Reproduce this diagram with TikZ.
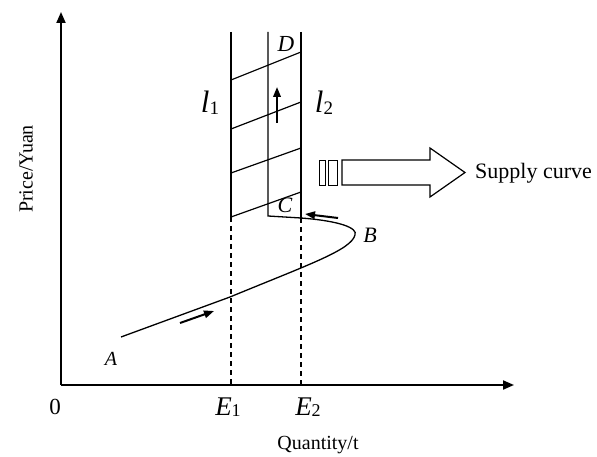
\documentclass[tikz,border=0pt]{standalone}
\usepackage{fontspec}
\setmainfont{Liberation Serif}
\usetikzlibrary{arrows.meta}
\newcommand{\fs}[1]{\fontsize{#1}{#1}\selectfont}
\newcommand{\subl}[4]{{\fs{#1}\itshape #2}\raisebox{-0.35ex}{\fs{#4}#3}}
\tikzset{
  axis/.style={line width=2pt,-{Triangle[length=11pt,width=9pt]}},
  thin line/.style={line width=1.2pt},
  dashline/.style={line width=1.2pt,dash pattern=on 5pt off 4pt},
  smallarrow/.style={line width=2pt,-{Triangle[length=10pt,width=7.5pt]}},
  lbl/.style={inner sep=0pt}
}
\begin{document}
\begin{tikzpicture}[x=1pt,y=-1pt]
\useasboundingbox (0,0) rectangle (597,457);
% axes
\coordinate (O) at (61,385);
\coordinate (Ytop) at (61,12);
\coordinate (Xend) at (514,385);
\draw[axis] (O) -- (Ytop);
\draw[axis] (O) -- (Xend);
% vertical lines
\coordinate (l1t) at (231,32); \coordinate (l1b) at (231,217);
\coordinate (l2t) at (301,32); \coordinate (l2b) at (301,218);
\coordinate (mt) at (268,32); \coordinate (mb) at (268,216);
\draw[thin line] (l1t) -- (l1b);
\draw[thin line] (l2t) -- (l2b);
% hatch
\draw[thin line] (231,217) -- (301,192);
\draw[thin line] (231,173) -- (301,148);
\draw[thin line] (231,129) -- (301,102);
\draw[thin line] (231,80) -- (301,52);
% middle line and curve
\coordinate (Bp) at (355,235);
\coordinate (Xa) at (230,297);
\coordinate (Ast) at (121,337);
\draw[line width=1.3pt] (mt) -- (mb) -- (l2b) .. controls (340,221) and (358,228) .. (Bp)
  .. controls (351,250) and (310,264) .. (Xa) -- (Ast);
% dashed
\coordinate (E1a) at (231,385); \coordinate (E2a) at (301,385);
\draw[dashline] (l1b) -- (E1a);
\draw[dashline] (l2b) -- (E2a);
% small arrows
\coordinate (ua1) at (277,123); \coordinate (ua2) at (277,87);
\draw[smallarrow] (ua1) -- (ua2);
\coordinate (aa1) at (180,323); \coordinate (aa2) at (214,311);
\draw[smallarrow] (aa1) -- (aa2);
\coordinate (ca1) at (338,218); \coordinate (ca2) at (305,214);
\draw[smallarrow] (ca1) -- (ca2);
% block arrow
\draw[line width=0.8pt] (319,160) rectangle (325.5,185);
\draw[line width=0.8pt] (328,160) rectangle (337,185);
\draw[thin line] (342,160) -- (430,160) -- (430,148) -- (465,172.5) -- (430,197) -- (430,185) -- (342,185) -- cycle;
% labels
\node[lbl,anchor=west] (sc) at (475,173) {\fs{22}Supply curve};
\node[lbl] (qt) at (318,445) {\fs{20}Quantity/t};
\node[lbl,rotate=90] (py) at (26,169) {\fs{20}Price/Yuan};
\node[lbl] (zero) at (55,407) {\fs{23}0};
\node[lbl] (E1) at (228,407) {\subl{27}{E}{1}{18}};
\node[lbl] (E2) at (308,407) {\subl{27}{E}{2}{18}};
\node[lbl] (L1) at (210,103) {\subl{31}{l}{1}{19}};
\node[lbl] (L2) at (324,103) {\subl{31}{l}{2}{19}};
\node[lbl] (A) at (111,359) {\fs{20}\itshape A};
\node[lbl] (B) at (370,235) {\fs{22}\itshape B};
\node[lbl] (C) at (285,205) {\fs{22}\itshape C};
\node[lbl] (D) at (286,44) {\fs{23}\itshape D};
\end{tikzpicture}
\end{document}
